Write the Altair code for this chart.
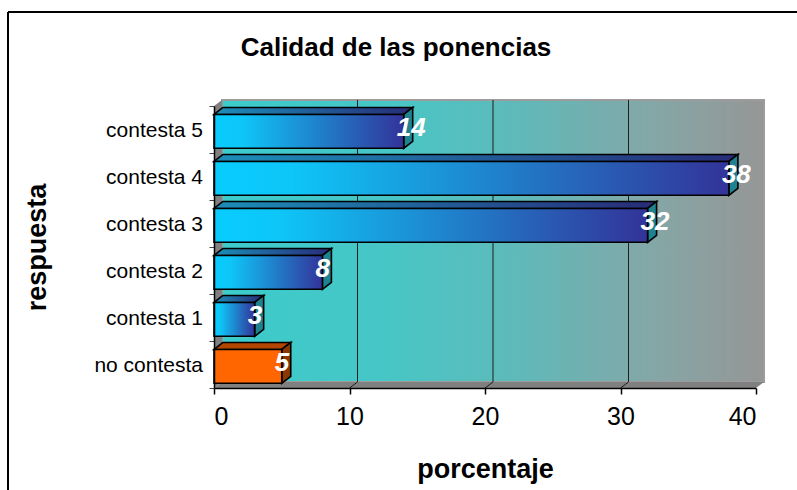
import altair as alt
import pandas as pd

# Survey answers and their share of responses (%)
categories = ["no contesta", "contesta 1", "contesta 2", "contesta 3", "contesta 4", "contesta 5"]
percentages = [5, 3, 8, 32, 38, 14]
x_ticks = [0, 10, 20, 30, 40]
grid_values = [10, 20, 30]

FONT = "Liberation Sans"
X_MAX = 40
N_ROWS = len(categories)
W, H = 542, 282

# depth of the pseudo 3-D bars and walls, expressed in data units
PX_X = W / X_MAX
PX_Y = H / N_ROWS
BAR_DX, BAR_DY = 9 / PX_X, 7 / PX_Y
WALL_DX, WALL_DY = 8 / PX_X, 6 / PX_Y
FACE_LO, FACE_HI = 0.10, 0.82

bars = pd.DataFrame({"cat": categories, "val": percentages})
bars["row"] = range(N_ROWS)
bars["x0"] = 0.0
bars["y0"] = bars["row"] + FACE_LO
bars["y1"] = bars["row"] + FACE_HI
bars["mid"] = bars["row"] + 0.46
bars["grp"] = ["none" if c == "no contesta" else "resp" for c in categories]

# top faces: horizontal parallelograms
top = pd.concat([
    pd.DataFrame({"cat": bars.cat, "grp": bars.grp, "yy": bars.y1, "xa": 0.0, "xb": bars.val}),
    pd.DataFrame({"cat": bars.cat, "grp": bars.grp, "yy": bars.y1 + BAR_DY,
                  "xa": BAR_DX, "xb": bars.val + BAR_DX}),
])
# end faces: vertical parallelograms
side = pd.concat([
    pd.DataFrame({"cat": bars.cat, "grp": bars.grp, "xx": bars.val, "ya": bars.y0, "yb": bars.y1}),
    pd.DataFrame({"cat": bars.cat, "grp": bars.grp, "xx": bars.val + BAR_DX,
                  "ya": bars.y0 + BAR_DY, "yb": bars.y1 + BAR_DY}),
])

# walls of the 3-D box
wall = pd.DataFrame({"xa": [WALL_DX], "xb": [X_MAX + WALL_DX],
                     "ya": [WALL_DY], "yb": [N_ROWS + WALL_DY]})
floor = pd.DataFrame({"yy": [0.0, WALL_DY], "xa": [0.0, WALL_DX], "xb": [X_MAX, X_MAX + WALL_DX]})
left_wall = pd.DataFrame({"xx": [0.0, WALL_DX], "ya": [0.0, WALL_DY], "yb": [N_ROWS, N_ROWS + WALL_DY]})
grid = pd.DataFrame([
    {"g": g, "o": k, "xx": g + (0 if k == 0 else WALL_DX), "yy": [0.0, WALL_DY, N_ROWS + WALL_DY][k]}
    for g in grid_values for k in range(3)
])


def grad(stops):
    return alt.Gradient(
        gradient="linear", x1=0, x2=1, y1=0, y2=0,
        stops=[alt.GradientStop(offset=o, color=c) for o, c in stops],
    )


xs = alt.Scale(domain=[0, X_MAX], nice=False, zero=False)
ys = alt.Scale(domain=[0, N_ROWS], nice=False, zero=False)

wall_layer = alt.Chart(wall).mark_rect(
    fill=grad([(0, "#3CCBCB"), (0.3, "#47C6C6"), (0.55, "#60B9B9"), (0.8, "#85A6A6"), (1, "#969696")]),
    stroke="#9C9C9C", strokeWidth=2,
).encode(
    x=alt.X("xa:Q", scale=xs, axis=alt.Axis(
        values=x_ticks, grid=False, zindex=1, domainColor="black", domainWidth=1.5,
        tickColor="black", tickSize=6, tickWidth=1.5,
        labelFont=FONT, labelFontSize=25, labelColor="black", labelPadding=10,
        title="porcentaje", titleFont=FONT, titleFontSize=27, titleFontWeight="bold",
        titleColor="black", titleY=81, titleBaseline="middle",
    )),
    x2="xb:Q",
    y=alt.Y("ya:Q", scale=ys, axis=alt.Axis(
        values=list(range(N_ROWS + 1)), labels=False, grid=False, zindex=1,
        domainColor="black", domainWidth=1.5, tickColor="#444444", tickSize=5, tickWidth=1,
        title="respuesta", titleFont=FONT, titleFontSize=27, titleFontWeight="bold",
        titleColor="black", titleAngle=-90, titleX=-177, titleY=H / 2,
        titleAlign="center", titleBaseline="middle",
    )),
    y2="yb:Q",
)

floor_layer = alt.Chart(floor).mark_area(orient="horizontal", color="#808080").encode(
    y=alt.Y("yy:Q", scale=ys), x=alt.X("xa:Q", scale=xs), x2="xb:Q"
)
left_wall_layer = alt.Chart(left_wall).mark_area(orient="vertical", color="#808080").encode(
    x=alt.X("xx:Q", scale=xs), y=alt.Y("ya:Q", scale=ys), y2="yb:Q"
)
grid_layer = alt.Chart(grid).mark_line(color="#1E1E1E", strokeWidth=1).encode(
    x=alt.X("xx:Q", scale=xs), y=alt.Y("yy:Q", scale=ys), detail="g:N", order="o:Q"
)

blue_front = grad([(0, "#08CCFF"), (0.15, "#0EC6F8"), (1, "#333399")])
blue_top = grad([(0, "#1C8EB8"), (1, "#282C78")])
orange_front = "#FF6600"
orange_top = "#B04600"

face_style = dict(stroke="black", strokeWidth=1.6, strokeJoin="miter")


def faces(grp, front_fill, top_fill, side_fill):
    front = alt.Chart(bars).transform_filter(alt.datum.grp == grp).mark_rect(
        fill=front_fill, **face_style
    ).encode(x=alt.X("x0:Q", scale=xs), x2="val:Q", y=alt.Y("y0:Q", scale=ys), y2="y1:Q")
    topf = alt.Chart(top).transform_filter(alt.datum.grp == grp).mark_area(
        orient="horizontal", fill=top_fill, **face_style
    ).encode(y=alt.Y("yy:Q", scale=ys), x=alt.X("xa:Q", scale=xs), x2="xb:Q", detail="cat:N")
    sidef = alt.Chart(side).transform_filter(alt.datum.grp == grp).mark_area(
        orient="vertical", fill=side_fill, **face_style
    ).encode(x=alt.X("xx:Q", scale=xs), y=alt.Y("ya:Q", scale=ys), y2="yb:Q", detail="cat:N")
    return [topf, sidef, front]


value_labels = alt.Chart(bars).mark_text(
    align="left", baseline="middle", dx=-7, dy=-3, font=FONT, fontSize=26,
    fontWeight="bold", fontStyle="italic", color="white",
).encode(x=alt.X("val:Q", scale=xs), y=alt.Y("mid:Q", scale=ys), text="val:Q")

cat_labels = alt.Chart(bars).mark_text(
    align="right", baseline="middle", font=FONT, fontSize=21, color="black",
).encode(x=alt.value(-11), y=alt.Y("mid:Q", scale=ys), text="cat:N")

title = alt.Chart(pd.DataFrame({"t": ["Calidad de las ponencias"]})).mark_text(
    align="center", baseline="middle", font=FONT, fontSize=26, fontWeight="bold", color="black",
).encode(x=alt.value(182), y=alt.value(-58), text="t:N")

frame_top = alt.Chart(pd.DataFrame({"k": [0]})).mark_rule(color="black", strokeWidth=2).encode(
    x=alt.value(-206), x2=alt.value(600), y=alt.value(-94)
)
frame_left = alt.Chart(pd.DataFrame({"k": [0]})).mark_rule(color="black", strokeWidth=2).encode(
    x=alt.value(-206), y=alt.value(-94), y2=alt.value(400)
)

layers = [wall_layer, left_wall_layer, floor_layer, grid_layer]
layers += faces("resp", blue_front, blue_top, "#1E8291")
layers += faces("none", orange_front, orange_top, "#8A3700")
layers += [value_labels, cat_labels, title, frame_top, frame_left]

chart = alt.layer(*layers).properties(
    width=W, height=H,
    padding={"left": 214, "top": 106, "right": 41, "bottom": 102},
    autosize=alt.AutoSizeParams(type="none"),
    background="white",
).configure_view(stroke=None)

chart.save("out.html", embed_options={"renderer": "svg", "actions": False})
